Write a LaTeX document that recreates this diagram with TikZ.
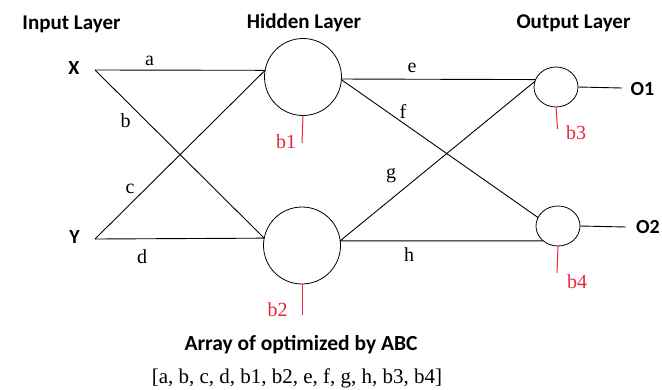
\documentclass[tikz,border=0pt]{standalone}
\usepackage{fontspec}
\usetikzlibrary{shapes.geometric}
\setmainfont{Liberation Serif}
\newfontfamily\sansbold{Carlito}
\definecolor{biasred}{RGB}{232,38,58}
\begin{document}
\begin{tikzpicture}[x=1pt,y=-1pt,
  neuron/.style={draw,circle,minimum size=77pt,inner sep=0pt,outer sep=0pt,line width=0.8pt},
  outneuron/.style={draw,ellipse,minimum width=44pt,minimum height=40pt,inner sep=0pt,outer sep=0pt,line width=0.8pt},
  conn/.style={line width=0.9pt},
  biasline/.style={draw=biasred,line width=1pt},
  title/.style={font=\sansbold\bfseries\fontsize{21}{25}\selectfont,anchor=base,inner sep=0pt},
  io/.style={font=\sansbold\bfseries\fontsize{20}{24}\selectfont,inner sep=0pt},
  wlabel/.style={font=\fontsize{20}{24}\selectfont,anchor=base,inner sep=0pt},
  blabel/.style={font=\fontsize{20}{24}\selectfont,anchor=base,inner sep=0pt,text=biasred}]
\useasboundingbox (0,0) rectangle (662,389);

% titles
\node[title] (tin) at (71.5,29) {Input Layer};
\node[title] (thid) at (304,28) {Hidden Layer};
\node[title] (tout) at (573.5,28) {Output Layer};

% inputs
\node[io,anchor=base] (X) at (74,74.5) {X};
\node[io,anchor=base] (Y) at (74.5,243.5) {Y};
\coordinate (xpt) at (95,70);
\coordinate (ypt) at (95,239);

% neurons
\node[neuron] (h1) at (303,77) {};
\node[neuron] (h2) at (302,245.5) {};
\node[outneuron] (o1) at (556,87) {};
\node[outneuron] (o2) at (558,226) {};

% outputs
\node[io] (O1) at (642.5,89) {O1};
\node[io] (O2) at (648,227.5) {O2};
\coordinate (o1end) at (622,88);
\coordinate (o2end) at (626,227);

% connectors
\draw[conn] (xpt) -- (h1.170);
\draw[conn] (xpt) -- (h2.169);
\draw[conn] (ypt) -- (h1.170);
\draw[conn] (ypt) -- (h2.169);
\draw[conn] (h1.-3) -- (o1.160);
\draw[conn] (h1.-4) -- (o2.157);
\draw[conn] (h2.7) -- (o1.165);
\draw[conn] (h2.7) -- (o2.-135);
\draw[conn] (o1.east) -- (o1end);
\draw[conn] (o2.east) -- (o2end);

% biases
\coordinate (b1end) at (302,143);
\coordinate (b2end) at (302,315);
\coordinate (b3end) at (557.5,129);
\coordinate (b4end) at (557,273);
\draw[biasline] (h1.south) -- (b1end);
\draw[biasline] (h2.south) -- (b2end);
\draw[biasline] (o1.south) -- (b3end);
\draw[biasline] (o2.south) -- (b4end);

% weight labels
\node[wlabel] (la) at (149.5,65) {a};
\node[wlabel] (lb) at (125.5,127) {b};
\node[wlabel] (lc) at (130,193) {c};
\node[wlabel] (ld) at (142,263) {d};
\node[wlabel] (le) at (412,72) {e};
\node[wlabel] (lf) at (403,118) {f};
\node[wlabel] (lg) at (391,178) {g};
\node[wlabel] (lh) at (409,261) {h};

% bias labels
\node[blabel] (lb1) at (286,148) {b1};
\node[blabel] (lb2) at (277.5,316) {b2};
\node[blabel] (lb3) at (576,139) {b3};
\node[blabel] (lb4) at (577,288) {b4};

% caption
\node[title,font=\sansbold\bfseries\fontsize{21.5}{26}\selectfont] (cap) at (301,350) {Array of optimized by ABC};
\node[wlabel,font=\fontsize{21}{25}\selectfont] (arr) at (297,383) {[a, b, c, d, b1, b2, e, f, g, h, b3, b4]};
\end{tikzpicture}
\end{document}
